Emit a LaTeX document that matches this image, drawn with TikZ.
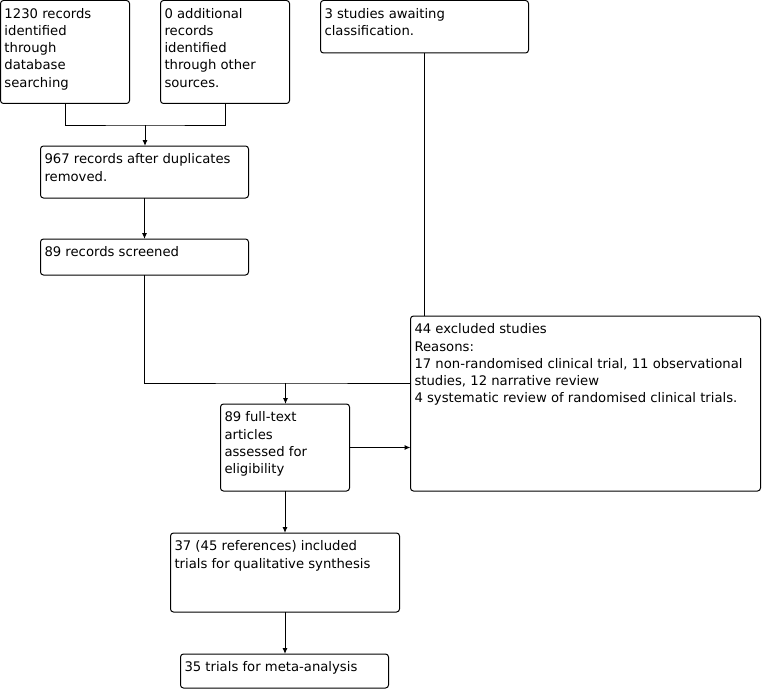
\documentclass[tikz,border=0pt]{standalone}
\usepackage{fontspec}
\setmainfont{DejaVu Sans}
\usetikzlibrary{arrows.meta}
\newcommand{\flowtext}[3]{\parbox[c][#2pt][t]{#1pt}{\fontsize{13.2}{17.2}\selectfont\raggedright\rule{0pt}{17.8pt}#3}}
\tikzset{
  box/.style={draw, line width=1pt, rounded corners=3pt, anchor=north west, inner xsep=4pt, inner ysep=0pt, outer sep=0pt},
  conn/.style={line width=1pt},
  arr/.style={conn, -{Latex[length=6pt,width=5pt]}}
}
\begin{document}
\begin{tikzpicture}[x=1pt, y=-1pt]
\useasboundingbox (0,0) rectangle (762,690);
\node[box] (a) at (0.5,0.5) {\flowtext{121}{103}{1230 records\\identified\\through\\database\\searching}};
\node[box] (b) at (160.5,0.5) {\flowtext{121}{103}{0 additional\\records\\identified\\through other\\sources.}};
\node[box] (c) at (320.5,0.5) {\flowtext{200}{52.5}{3 studies awaiting\\classification.}};
\node[box] (d) at (40.5,146) {\flowtext{200}{52}{967 records after duplicates\\removed.}};
\node[box] (e) at (40.5,239) {\flowtext{200}{36}{89 records screened}};
\node[box] (g) at (410.5,316) {\flowtext{342}{175}{44 excluded studies\\Reasons:\\17 non-randomised clinical trial, 11 observational\\studies, 12 narrative review\\4 systematic review of randomised clinical trials.}};
\node[box] (f) at (220.5,404) {\flowtext{121}{87}{89 full-text\\articles\\assessed for\\eligibility}};
\node[box] (h) at (170.5,533) {\flowtext{221}{79}{37 (45 references) included\\trials for qualitative synthesis}};
\node[box] (i) at (180.5,654) {\flowtext{200}{34}{35 trials for meta-analysis}};
\coordinate (j1) at (145,125);
\coordinate (j2) at (285.5,383);
\draw[conn] (a.south) |- (j1) -| (b.south);
\draw[arr] (j1) -- (j1 |- d.north);
\draw[arr] (d.south) -- (e.north);
\draw[conn] (e.south) |- (j2) -- (g.west |- j2);
\draw[conn] (c.south) -- (c.south |- g.north);
\draw[arr] (j2) -- (j2 |- f.north);
\draw[arr] (f.east) -- (g.west |- f.east);
\draw[arr] (f.south) -- (f.south |- h.north);
\draw[arr] (h.south) -- (h.south |- i.north);
\end{tikzpicture}
\end{document}
